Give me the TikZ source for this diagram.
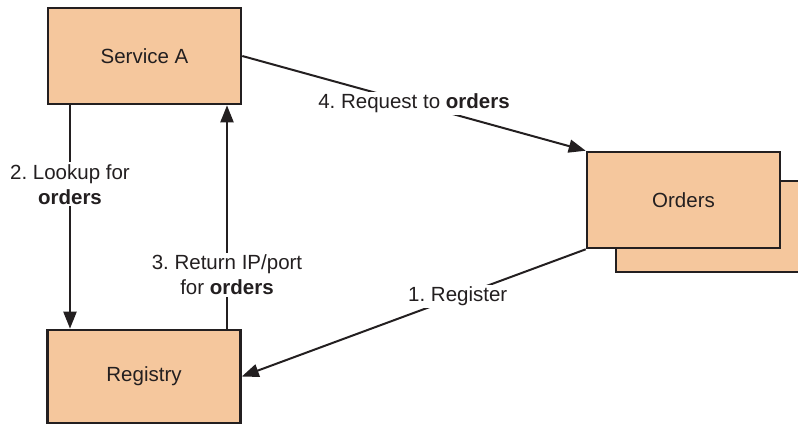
\documentclass[tikz,border=0pt]{standalone}
\usepackage{fontspec}
\setmainfont{Liberation Sans}
\usetikzlibrary{arrows.meta}
\definecolor{boxfill}{HTML}{F5C79D}
\definecolor{ink}{HTML}{231F20}
\frenchspacing
\tikzset{
  svc/.style={draw=ink, fill=boxfill, line width=2.6pt, minimum width=193pt, minimum height=96pt, inner sep=0pt, font=\fontsize{20.5}{25}\selectfont, text=ink},
  conn/.style={draw=ink, line width=2pt, -{Triangle[length=17pt,width=13pt]}},
  lbl/.style={fill=white, inner sep=2pt, align=center, font=\fontsize{20.5}{25}\selectfont, text=ink}
}
\begin{document}
\begin{tikzpicture}[x=1pt,y=-1pt]
\useasboundingbox (0,0) rectangle (798,426);
\clip (0,0) rectangle (798,426);
\node[svc, minimum height=91pt] (ordersback) at (712.5,226.5) {};
\node[svc] (orders) at (683.5,200) {Orders};
\node[svc] (sa) at (144.5,56) {Service A};
\node[svc, minimum height=93pt] (reg) at (144,376.5) {Registry};
\coordinate (lx) at (70,0);
\coordinate (rx) at (227,0);
\draw[conn] (sa.south -| lx) -- node[lbl, pos=0.354] {2. Lookup for\\\textbf{orders}} (reg.north -| lx);
\draw[conn] (reg.north -| rx) -- node[lbl, pos=0.24] {3. Return IP/port\\for \textbf{orders}} (sa.south -| rx);
\draw[conn] (sa.east) -- node[lbl, pos=0.5] {4. Request to \textbf{orders}} (orders.north west);
\draw[conn] (orders.south west) -- node[lbl, pos=0.372] {1. Register} (reg.east);
\end{tikzpicture}
\end{document}
